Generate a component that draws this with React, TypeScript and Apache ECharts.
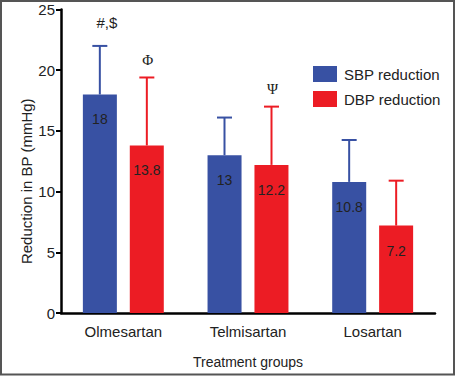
import React, { useEffect, useRef } from "react";
import * as echarts from "echarts";

const categories = ["Olmesartan", "Telmisartan", "Losartan"];
const sbpValues = [18, 13, 10.8];
const dbpValues = [13.8, 12.2, 7.2];
const sbpErrTop = [22, 16.1, 14.25];
const dbpErrTop = [19.4, 17, 10.9];
const sbpMarks = ["#,$", "", ""];
const dbpMarks = ["Φ", "Ψ", ""];
const yTicks = [0, 5, 10, 15, 20, 25];

const BLUE = "#3851a3";
const RED = "#ec1c24";
const FONT = "Liberation Sans, Arial, sans-serif";

function makeErr(name: string, vals: number[], tops: number[], marks: string[], color: string, offset: number) {
  return {
    type: "custom",
    name,
    z: 3,
    data: tops.map((t, i) => [i, vals[i], t]),
    encode: { x: 0, y: 2 },
    renderItem: (params: any, api: any) => {
      const i = api.value(0);
      const base = api.coord([i, api.value(1)]);
      const top = api.coord([i, api.value(2)]);
      const x = base[0] + offset;
      const half = 7.5;
      const children: any[] = [
        { type: "line", shape: { x1: x, y1: base[1], x2: x, y2: top[1] }, style: { stroke: color, lineWidth: 2 } },
        { type: "line", shape: { x1: x - half, y1: top[1], x2: x + half, y2: top[1] }, style: { stroke: color, lineWidth: 2 } },
      ];
      const m = marks[params.dataIndex];
      if (m) {
        const multi = m.length > 1;
        children.push({
          type: "text",
          style: {
            text: m,
            x: x + (multi ? 7 : 1),
            y: top[1] - (multi ? 16 : 10),
            align: "center",
            verticalAlign: "bottom",
            fill: "#222",
            font: multi ? "15px 'Liberation Sans', sans-serif" : "15px 'Liberation Serif', serif",
          },
        });
      }
      return { type: "group", children };
    },
  };
}

export default function App() {
  const ref = useRef<HTMLDivElement>(null);
  useEffect(() => {
    document.body.style.margin = "0";
    const chart = echarts.init(ref.current!, undefined, { renderer: "svg" });
    const labelCfg = {
      show: true,
      position: "insideTop",
      distance: 18,
      color: "#222",
      fontSize: 14,
      fontFamily: FONT,
    };
    chart.setOption({
      animation: false,
      backgroundColor: "#fff",
      textStyle: { fontFamily: FONT },
      grid: { left: 61, right: 20, top: 9.5, bottom: 63 },
      legend: {
        data: ["SBP reduction", "DBP reduction"],
        orient: "vertical",
        left: 308,
        top: 61,
        itemWidth: 24,
        itemHeight: 16,
        itemGap: 9,
        textStyle: { fontSize: 15, color: "#222", fontFamily: FONT, padding: [0, 0, 0, 2] },
        icon: "rect",
      },
      xAxis: {
        type: "category",
        data: categories,
        name: "Treatment groups",
        nameLocation: "middle",
        nameGap: 42,
        nameMoveOverlap: false,
        nameTextStyle: { fontSize: 14, color: "#222", fontFamily: FONT },
        axisLine: { lineStyle: { color: "#000", width: 2.5 } },
        axisTick: { alignWithLabel: true, length: 5, lineStyle: { color: "#000", width: 2 } },
        axisLabel: { fontSize: 15, color: "#222", margin: 11, fontFamily: FONT },
      },
      yAxis: {
        type: "value",
        min: yTicks[0],
        max: yTicks[yTicks.length - 1],
        interval: 5,
        name: "Reduction in BP (mmHg)",
        nameLocation: "middle",
        nameGap: 27,
        nameMoveOverlap: false,
        nameTextStyle: { fontSize: 15, color: "#222", fontFamily: FONT, padding: [0, 40, 0, 0] },
        axisLine: { show: true, lineStyle: { color: "#000", width: 2.5 } },
        axisTick: { show: true, length: 5, lineStyle: { color: "#000", width: 2 } },
        axisLabel: { fontSize: 15, color: "#222", margin: 6, fontFamily: FONT },
        splitLine: { show: false },
      },
      series: [
        {
          type: "bar",
          name: "SBP reduction",
          data: sbpValues,
          barWidth: 34,
          barGap: "38%",
          itemStyle: { color: BLUE },
          label: labelCfg,
        },
        {
          type: "bar",
          name: "DBP reduction",
          data: dbpValues,
          barWidth: 34,
          itemStyle: { color: RED },
          label: labelCfg,
        },
        makeErr("SBP err", sbpValues, sbpErrTop, sbpMarks, BLUE, -23.5),
        makeErr("DBP err", dbpValues, dbpErrTop, dbpMarks, RED, 23.5),
      ],
      graphic: [
        {
          type: "rect",
          silent: true,
          shape: { x: 1, y: 1, width: 453, height: 373.5 },
          style: { fill: "none", stroke: "#555", lineWidth: 2 },
          z: 100,
        },
      ],
    });
    return () => chart.dispose();
  }, []);
  return <div ref={ref} style={{ width: 455, height: 376 }} />;
}
